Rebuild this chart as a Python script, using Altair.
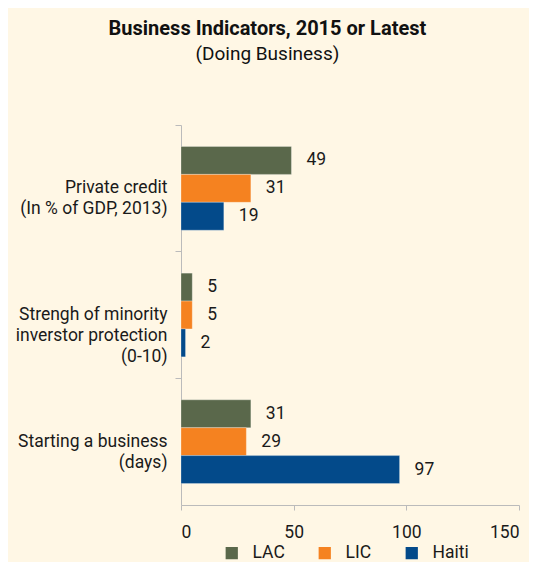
import altair as alt
import pandas as pd

categories = ["Private credit|(In % of GDP, 2013)",
              "Strengh of minority|inverstor protection|(0-10)",
              "Starting a business|(days)"]
series = ["LAC", "LIC", "Haiti"]
lac = [49, 5, 31]
lic = [31, 5, 29]
haiti = [19, 2, 97]
colors = ["#5A684B", "#F58220", "#034A8A"]

rows = []
for i, c in enumerate(categories):
    for s, vals in zip(series, [lac, lic, haiti]):
        rows.append({"indicator": c, "group": s, "value": vals[i]})
df = pd.DataFrame(rows)

FONT = "Roboto"
FS = 17.5

y_enc = alt.Y("indicator:N", sort=categories, title=None,
              scale=alt.Scale(paddingInner=0, paddingOuter=0),
              axis=alt.Axis(labelExpr="split(datum.label, '|')", bandPosition=0,
                            labelFontSize=FS, labelColor="#1a1a1a", labelFont=FONT,
                            labelPadding=8, tickSize=6, tickColor="#BBBBBB",
                            domainColor="#BBBBBB", labelLineHeight=21, labelLimit=300))
yoff = alt.YOffset("group:N", sort=series,
                   scale=alt.Scale(paddingInner=0, paddingOuter=0.77))
x_enc = alt.X("value:Q", title=None,
              scale=alt.Scale(domain=[0, 150], nice=False),
              axis=alt.Axis(values=[0, 50, 100, 150], grid=False,
                            labelFontSize=FS, labelColor="#1a1a1a", labelFont=FONT,
                            labelPadding=13, tickSize=5, tickColor="#BBBBBB",
                            domainColor="#BBBBBB"))

bars = alt.Chart(df).mark_bar(stroke="#ffffff", strokeOpacity=0.35, strokeWidth=0.8).encode(
    x=x_enc, y=y_enc, yOffset=yoff,
    color=alt.Color("group:N", sort=series,
                    scale=alt.Scale(domain=series, range=colors),
                    legend=alt.Legend(title=None, orient="none", direction="horizontal",
                                      legendX=42, legendY=419,
                                      symbolType="square", symbolSize=150,
                                      symbolStrokeWidth=0,
                                      labelFontSize=FS, labelFont=FONT, labelColor="#1a1a1a",
                                      columnPadding=31, labelOffset=12)),
)

labels = alt.Chart(df).mark_text(align="left", baseline="middle", dx=15,
                                 fontSize=FS, font=FONT, color="#1a1a1a").encode(
    x="value:Q", y=alt.Y("indicator:N", sort=categories), yOffset=alt.YOffset("group:N", sort=series),
    text="value:Q",
)

chart = alt.layer(bars, labels).properties(
    width=338, height=380,
    autosize=alt.AutoSizeParams(type="none"),
    padding={"left": 173, "top": 117, "right": 10, "bottom": 57},
    background="#FFF7E5",
    title=alt.TitleParams(text="Business Indicators, 2015 or Latest",
                          subtitle="(Doing Business)",
                          anchor="middle", frame="bounds", offset=61,
                          font=FONT, fontSize=20, fontWeight="bold", color="#111111",
                          subtitleFont=FONT, subtitleFontSize=19, subtitleColor="#111111",
                          subtitlePadding=6),
).configure_view(stroke=None)

chart.save("out.html", embed_options={"renderer": "svg", "actions": False})
